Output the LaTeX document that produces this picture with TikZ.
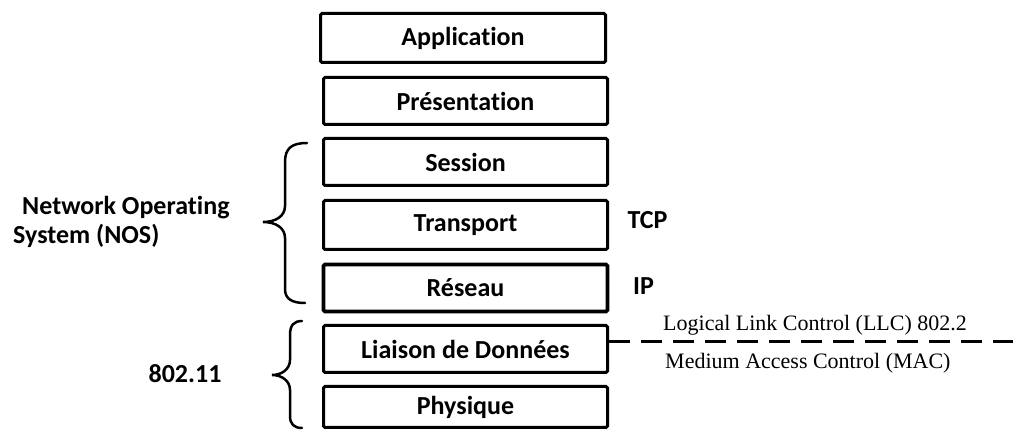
\documentclass[tikz,border=0pt]{standalone}
\usepackage{fontspec}
\setmainfont{Carlito}[Ligatures=NoCommon]
\newfontfamily\tnr{Liberation Serif}
\begin{document}
\begin{tikzpicture}[x=1pt,y=-1pt,
  layer/.style={draw=black,line width=3pt,rounded corners=1.5pt,minimum width=284pt,inner sep=0pt,font=\fontsize{26}{30}\selectfont\bfseries},
  lbl/.style={inner sep=0pt,font=\fontsize{26}{30}\selectfont\bfseries},
  tlbl/.style={inner sep=0pt,anchor=west,font=\tnr\fontsize{22}{26}\selectfont},
  brace/.style={line width=2.5pt,line cap=round}]
\useasboundingbox (0,0) rectangle (1013,430);
\node[layer,minimum width=285pt,minimum height=49pt] (app) at (463,38) {Application};
\node[layer,minimum height=47pt] (pres) at (465.5,101) {Présentation};
\node[layer,minimum height=47pt] (sess) at (465.5,162) {Session};
\node[layer,minimum height=49pt] (trans) at (465.5,225) {Transport};
\node[layer,minimum height=47pt,line width=3.6pt] (res) at (465.5,288) {Réseau};
\node[layer,minimum height=47pt] (liai) at (465.5,349) {Liaison de Données};
\node[layer,minimum height=41pt] (phys) at (465.5,407) {Physique};
\node[lbl] (tcp) at (647.5,220) {TCP};
\node[lbl] (ip) at (643.5,286) {IP};
\node[lbl,align=left,anchor=west] (nos) at (13,222) {\hspace{9pt}Network Operating\\[-1pt]System (NOS)};
\node[lbl] (ieee) at (185,374) {802.11};
\node[tlbl] (llc) at (663,325) {Logical Link Control (LLC) 802.2};
\node[tlbl] (mac) at (665,363) {Medium Access Control (MAC)};
\coordinate (dashend) at (1013,342);
\draw[line width=3pt,dash pattern=on 21pt off 11pt] ([yshift=7pt]liai.east) -- (dashend);
% NOS brace
\draw[brace] (307,143) .. controls (292,143) and (285,148) .. (285,162) -- (285,206)
  .. controls (285,216) and (276,222) .. (263,222)
  .. controls (276,222) and (285,228) .. (285,238) -- (285,289)
  .. controls (285,299) and (292,303) .. (305,303);
% 802.11 brace
\draw[brace] (302,321) .. controls (294,321) and (290,325) .. (290,335) -- (290,360)
  .. controls (290,369) and (282,375) .. (272,375)
  .. controls (282,375) and (290,381) .. (290,390) -- (290,416)
  .. controls (290,424) and (294,428) .. (302,428);
\end{tikzpicture}
\end{document}
